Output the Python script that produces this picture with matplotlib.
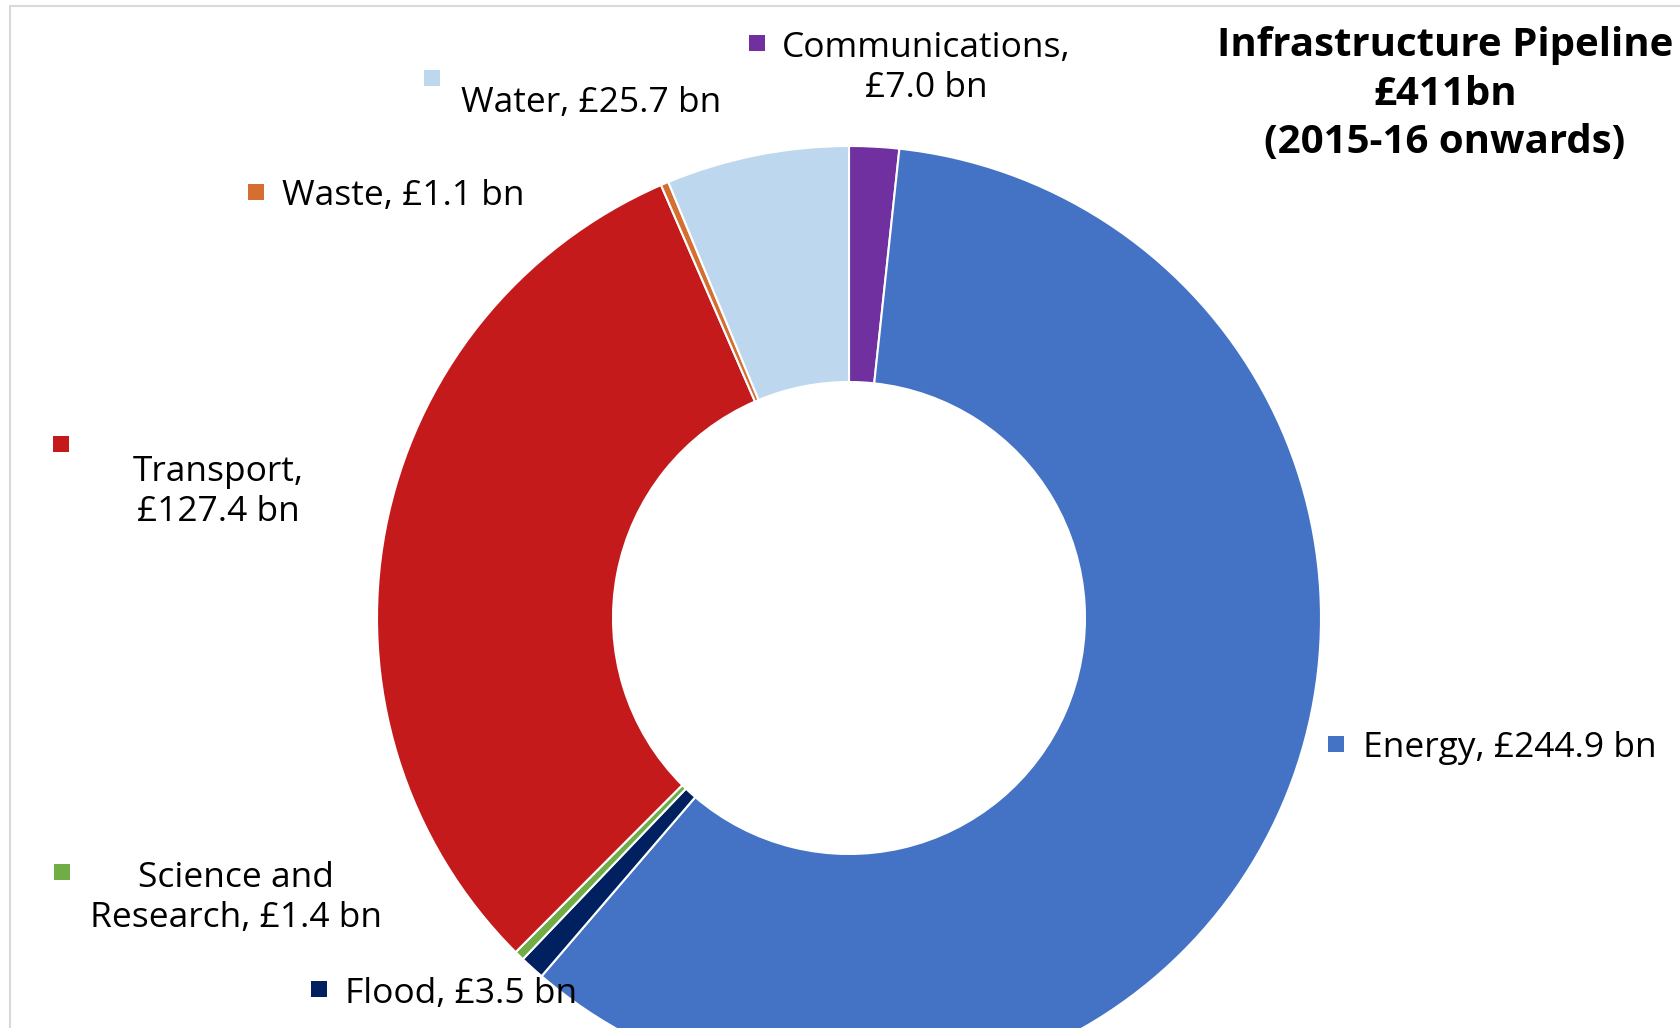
import matplotlib
matplotlib.use("Agg")
import matplotlib.pyplot as plt
from matplotlib.patches import Rectangle

plt.rcParams['font.family'] = ['Open Sans', 'DejaVu Sans']

# data
sectors = ['Communications', 'Energy', 'Flood', 'Science and\nResearch',
           'Transport', 'Waste', 'Water']
values = [7.0, 244.9, 3.5, 1.4, 127.4, 1.1, 25.7]
colors = ['#7030A0', '#4472C4', '#002060', '#70AD47', '#C41A1C', '#D46F31', '#BDD7EE']
title_lines = ['Infrastructure Pipeline', '£411bn', '(2015-16 onwards)']

W, H = 1681, 1028
fig = plt.figure(figsize=(W / 100, H / 100), dpi=100)
ax = fig.add_axes([0, 0, 1, 1])


def py(y):
    # pixel-from-top to data y
    return H - y


ax.pie(values, colors=colors, startangle=90, counterclock=False,
       radius=472, center=(849, py(618)),
       wedgeprops=dict(width=236, edgecolor='white', linewidth=1.5))
ax.set_xlim(0, W)
ax.set_ylim(0, H)
ax.set_aspect('equal')
ax.axis('off')

# label text, (x, y) of text, alignment, marker position
labels = [
    ('Communications,\n£7.0 bn', (926, 68), 'center', (757, 43)),
    ('Energy, £244.9 bn', (1363, 748), 'left', (1336, 744)),
    ('Flood, £3.5 bn', (345, 994), 'left', (319, 989)),
    ('Science and\nResearch, £1.4 bn', (236, 898), 'center', (62, 872)),
    ('Transport,\n£127.4 bn', (218, 492), 'center', (61, 444)),
    ('Waste, £1.1 bn', (282, 196), 'left', (256, 192)),
    ('Water, £25.7 bn', (461, 103), 'left', (432, 78)),
]
for (txt, (tx, ty), ha, (mx, my)), c in zip(labels, colors):
    ax.text(tx, py(ty), txt, ha=ha, va='center', fontsize=25.5,
            multialignment='center', linespacing=1.26, color='black')
    ax.scatter([mx], [py(my)], marker='s', s=130, color=c, linewidths=0)

ax.text(1445, py(94), '\n'.join(title_lines), ha='center', va='center',
        fontsize=29, fontweight='bold', linespacing=1.32)

# light frame around the chart area
fig.add_artist(Rectangle((10 / W, -0.1), 1.2, (H - 6) / H + 0.1,
                         transform=fig.transFigure, fill=False,
                         edgecolor='#D9D9D9', linewidth=1.5))

fig.savefig('out.png', dpi=100)
